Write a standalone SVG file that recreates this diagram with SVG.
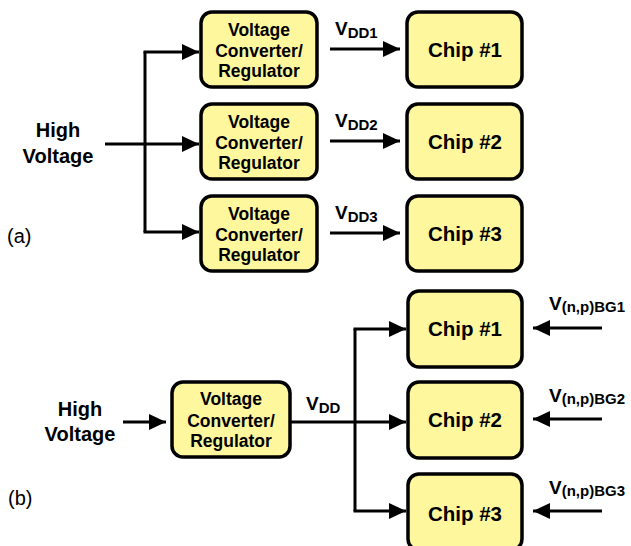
<svg xmlns="http://www.w3.org/2000/svg" width="631" height="546" viewBox="0 0 631 546">
<defs>
<marker id="ah" markerUnits="userSpaceOnUse" markerWidth="17" markerHeight="16" refX="17" refY="8" orient="auto">
<path d="M0,0 L17,8 L0,16 z" fill="#000"/>
</marker>
<style>
.box{fill:#fff79e;stroke:#000;stroke-width:3.5}
.t{font-family:"Liberation Sans",Arial,sans-serif;font-weight:bold;fill:#000;text-anchor:middle}
.cv{font-size:17.5px}
.ch{font-size:20.5px}
.hv{font-size:20px}
.lab{font-family:"Liberation Sans",Arial,sans-serif;font-size:20px;fill:#000}
.v{font-family:"Liberation Sans",Arial,sans-serif;font-weight:bold;font-size:19px;fill:#000}
.sub{font-size:15px}
.ln{fill:none;stroke:#000;stroke-width:3}
.arr{fill:none;stroke:#000;stroke-width:3;marker-end:url(#ah)}
</style>
</defs>
<rect width="631" height="546" fill="#fff"/>

<g id="connectors">
<path class="arr" d="M105,144 H199"/>
<path class="ln" d="M145,52 V232"/>
<path class="arr" d="M143.5,52 H199"/>
<path class="arr" d="M143.5,232 H199"/>
<path class="arr" d="M330,49 H400"/>
<path class="arr" d="M330,141 H400"/>
<path class="arr" d="M330,233 H400"/>
<path class="arr" d="M123,422 H166"/>
<path class="arr" d="M290,422 H406"/>
<path class="ln" d="M355,329 V511"/>
<path class="arr" d="M353.5,329 H406"/>
<path class="arr" d="M353.5,511 H406"/>
<path class="arr" d="M602,328 H533"/>
<path class="arr" d="M602,419 H533"/>
<path class="arr" d="M602,511 H533"/>
</g>

<g id="label-a"><text class="lab" x="7" y="243">(a)</text></g>
<g id="label-b"><text class="lab" x="8" y="505">(b)</text></g>

<g id="hv-a"><text class="t hv" x="58" y="137">High</text><text class="t hv" x="58" y="163">Voltage</text></g>
<g id="hv-b"><text class="t hv" x="80" y="416">High</text><text class="t hv" x="80" y="441">Voltage</text></g>

<g id="conv-a1"><rect class="box" x="201" y="12" width="116" height="75" rx="11"/>
<text class="t cv" x="259" y="36">Voltage</text><text class="t cv" x="259" y="57">Converter/</text><text class="t cv" x="259" y="77">Regulator</text></g>
<g id="conv-a2"><rect class="box" x="201" y="104" width="116" height="75" rx="11"/>
<text class="t cv" x="259" y="128">Voltage</text><text class="t cv" x="259" y="149">Converter/</text><text class="t cv" x="259" y="169">Regulator</text></g>
<g id="conv-a3"><rect class="box" x="201" y="196" width="116" height="75" rx="11"/>
<text class="t cv" x="259" y="220">Voltage</text><text class="t cv" x="259" y="241">Converter/</text><text class="t cv" x="259" y="261">Regulator</text></g>

<g id="chip-a1"><rect class="box" x="407" y="12" width="115" height="75" rx="11"/><text class="t ch" x="465" y="57">Chip #1</text></g>
<g id="chip-a2"><rect class="box" x="407" y="104" width="115" height="75" rx="11"/><text class="t ch" x="465" y="149">Chip #2</text></g>
<g id="chip-a3"><rect class="box" x="407" y="196" width="115" height="75" rx="11"/><text class="t ch" x="465" y="241">Chip #3</text></g>

<g id="vdd-labels-a">
<text class="v" x="335" y="35">V<tspan class="sub" dy="3">DD1</tspan></text>
<text class="v" x="335" y="127">V<tspan class="sub" dy="3">DD2</tspan></text>
<text class="v" x="335" y="219">V<tspan class="sub" dy="3">DD3</tspan></text>
</g>

<g id="conv-b"><rect class="box" x="172" y="382" width="118" height="75" rx="11"/>
<text class="t cv" x="231" y="405">Voltage</text><text class="t cv" x="231" y="427">Converter/</text><text class="t cv" x="231" y="447">Regulator</text></g>

<g id="chip-b1"><rect class="box" x="408" y="291" width="114" height="76" rx="11"/><text class="t ch" x="465" y="336">Chip #1</text></g>
<g id="chip-b2"><rect class="box" x="408" y="382" width="114" height="76" rx="11"/><text class="t ch" x="465" y="427">Chip #2</text></g>
<g id="chip-b3"><rect class="box" x="408" y="474" width="114" height="76" rx="11"/><text class="t ch" x="465" y="521">Chip #3</text></g>

<g id="vdd-label-b"><text class="v" x="306" y="410">V<tspan class="sub" dy="3">DD</tspan></text></g>
<g id="bg-labels">
<text class="v" x="549" y="310">V<tspan class="sub" dy="2">(n,p)BG1</tspan></text>
<text class="v" x="549" y="402">V<tspan class="sub" dy="2">(n,p)BG2</tspan></text>
<text class="v" x="549" y="494">V<tspan class="sub" dy="2">(n,p)BG3</tspan></text>
</g>
</svg>
